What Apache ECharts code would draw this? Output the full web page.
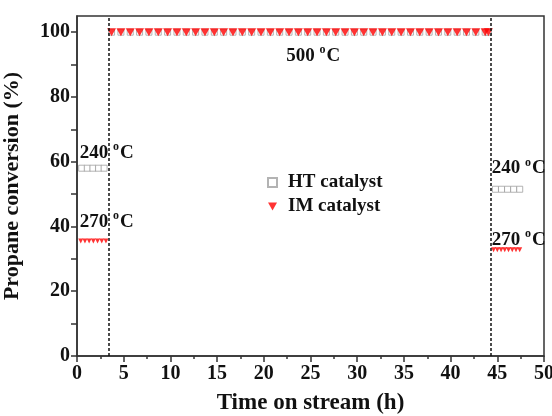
<!DOCTYPE html>
<html>
<head>
<meta charset="utf-8">
<script src="https://cdn.jsdelivr.net/npm/echarts@6/dist/echarts.min.js"></script>
<style>html,body{margin:0;padding:0;background:#fff}#c{width:552px;height:416px}</style>
</head>
<body>
<div id="c"></div>
<script>
// ---- data ----
var seriesNames = ['HT catalyst', 'IM catalyst'];
var xTickLabels = ['0', '5', '10', '15', '20', '25', '30', '35', '40', '45', '50'];
var yTickLabels = ['0', '20', '40', '60', '80', '100'];

var htX = [0.5, 1.1, 1.7, 2.3, 2.9,
  3.7, 4.7, 5.7, 6.7, 7.7, 8.7, 9.7, 10.7, 11.7, 12.7, 13.7, 14.7, 15.7, 16.7, 17.7, 18.7, 19.7, 20.7, 21.7, 22.7,
  23.7, 24.7, 25.7, 26.7, 27.7, 28.7, 29.7, 30.7, 31.7, 32.7, 33.7, 34.7, 35.7, 36.7, 37.7, 38.7, 39.7, 40.7, 41.7, 42.7, 43.7, 44.05,
  44.8, 45.45, 46.1, 46.75, 47.4];
var htY = [58, 58, 58, 58, 58,
  100, 100, 100, 100, 100, 100, 100, 100, 100, 100, 100, 100, 100, 100, 100, 100, 100, 100, 100, 100,
  100, 100, 100, 100, 100, 100, 100, 100, 100, 100, 100, 100, 100, 100, 100, 100, 100, 100, 100, 100, 100, 100,
  51.5, 51.5, 51.5, 51.5, 51.5];

var imLowX = [0.4, 0.85, 1.3, 1.75, 2.2, 2.65, 3.1,
  44.6, 45.0, 45.4, 45.8, 46.2, 46.6, 47.0, 47.4];
var imLowY = [35.5, 35.5, 35.5, 35.5, 35.5, 35.5, 35.5,
  32.8, 32.8, 32.8, 32.8, 32.8, 32.8, 32.8, 32.8];
var imHighX = [3.7, 4.7, 5.7, 6.7, 7.7, 8.7, 9.7, 10.7, 11.7, 12.7, 13.7, 14.7, 15.7, 16.7, 17.7, 18.7, 19.7, 20.7, 21.7, 22.7,
  23.7, 24.7, 25.7, 26.7, 27.7, 28.7, 29.7, 30.7, 31.7, 32.7, 33.7, 34.7, 35.7, 36.7, 37.7, 38.7, 39.7, 40.7, 41.7, 42.7, 43.7, 44.05];
var imHighY = [100, 100, 100, 100, 100, 100, 100, 100, 100, 100, 100, 100, 100, 100, 100, 100, 100, 100, 100, 100,
  100, 100, 100, 100, 100, 100, 100, 100, 100, 100, 100, 100, 100, 100, 100, 100, 100, 100, 100, 100, 100, 100];

var switchTimes = [3.45, 44.3];

var annotTexts = ['240', '270', '500', '240', '270'];
var annotX = [0.3, 0.3, 22.4, 44.4, 44.4];
var annotY = [62.8, 41.5, 92.6, 57.9, 35.9];

// ---- chart ----
var FONT = '"Liberation Serif", "Times New Roman", serif';
var TRI = 'path://M0,0L10,0L5,9Z';
function zip(a, b) { return a.map(function (v, i) { return [v, b[i]]; }); }

var chart = echarts.init(document.getElementById('c'), null, { renderer: 'canvas' });
var option = {
  animation: false,
  backgroundColor: '#fff',
  grid: { left: 77, right: 8, top: 16, bottom: 60, containLabel: false, outerBoundsMode: 'none',
    show: true, borderColor: '#333', borderWidth: 1.5, backgroundColor: 'transparent' },
  legend: {
    orient: 'vertical', left: 262, top: 168, itemGap: 5, itemWidth: 9, itemHeight: 9,
    textStyle: { fontFamily: FONT, fontWeight: 'bold', fontSize: 19, color: '#111', padding: [0, 0, 0, 6] },
    data: [
      { name: seriesNames[0], icon: 'rect' },
      { name: seriesNames[1], icon: TRI }
    ]
  },
  xAxis: {
    type: 'value', min: 0, max: 50, interval: 5,
    name: 'Time on stream (h)', nameLocation: 'middle', nameGap: 36,
    nameTextStyle: { fontFamily: FONT, fontWeight: 'bold', fontSize: 23, color: '#111' },
    axisLine: { show: true, lineStyle: { color: '#333', width: 1.5 } },
    axisTick: { show: true, inside: false, length: 6, lineStyle: { color: '#333', width: 1.5 } },
    minorTick: { show: true, splitNumber: 2, length: 3, lineStyle: { color: '#333', width: 1.5 } },
    splitLine: { show: false },
    axisLabel: {
      fontFamily: FONT, fontWeight: 'bold', fontSize: 20, color: '#111', margin: 8,
      formatter: function (v) { var i = xTickLabels.indexOf(String(v)); return i >= 0 ? xTickLabels[i] : ''; }
    }
  },
  yAxis: {
    type: 'value', min: 0, max: 105, interval: 10,
    name: 'Propane conversion (%)', nameLocation: 'middle', nameGap: 54,
    nameTextStyle: { fontFamily: FONT, fontWeight: 'bold', fontSize: 22, color: '#111' },
    axisLine: { show: true, lineStyle: { color: '#333', width: 1.5 } },
    axisTick: { show: true, inside: false, length: 6, lineStyle: { color: '#333', width: 1.5 },
      customValues: [0, 10, 20, 30, 40, 50, 60, 70, 80, 90, 100] },
    splitLine: { show: false },
    axisLabel: {
      fontFamily: FONT, fontWeight: 'bold', fontSize: 20, color: '#111', margin: 7,
      customValues: yTickLabels.map(Number),
      formatter: function (v) { var i = yTickLabels.indexOf(String(v)); return i >= 0 ? yTickLabels[i] : ''; }
    }
  },
  series: [
    {
      name: seriesNames[0], type: 'scatter', symbol: 'rect', symbolSize: 6,
      itemStyle: { color: '#fff', borderColor: '#a0a0a0', borderWidth: 1 },
      data: zip(htX, htY), z: 2
    },
    {
      name: seriesNames[1], type: 'scatter', symbol: TRI, symbolSize: [5, 5],
      itemStyle: { color: '#ff0000' },
      data: zip(imLowX, imLowY), z: 3,
      markLine: {
        silent: true, symbol: 'none', label: { show: false },
        lineStyle: { color: '#111', type: [3, 2], width: 1.5 },
        data: switchTimes.map(function (t) { return { xAxis: t }; })
      }
    },
    {
      name: seriesNames[1], type: 'scatter', symbol: TRI, symbolSize: [9, 8],
      itemStyle: { color: '#ff0000' },
      data: zip(imHighX, imHighY), z: 3
    }
  ]
};
chart.setOption(option);

var ctx = document.createElement('canvas').getContext('2d');
function textW(t, size) {
  ctx.font = 'bold ' + size + 'px ' + FONT;
  return ctx.measureText(t).width;
}
var MAIN = 19, SUP = 12;
var graphics = [];
annotTexts.forEach(function (t, i) {
  var p = chart.convertToPixel({ gridIndex: 0 }, [annotX[i], annotY[i]]);
  var w1 = textW(t + ' ', MAIN);
  var w2 = textW('o', SUP);
  var base = { fontFamily: FONT, fontWeight: 'bold', fill: '#111', verticalAlign: 'middle', align: 'left' };
  graphics.push({ type: 'text', x: p[0], y: p[1], z: 10,
    style: Object.assign({}, base, { text: t + ' ', fontSize: MAIN }) });
  graphics.push({ type: 'text', x: p[0] + w1, y: p[1] - 6, z: 10,
    style: Object.assign({}, base, { text: 'o', fontSize: SUP }) });
  graphics.push({ type: 'text', x: p[0] + w1 + w2 + 1, y: p[1], z: 10,
    style: Object.assign({}, base, { text: 'C', fontSize: MAIN }) });
});
chart.setOption({ graphic: graphics });
</script>
</body>
</html>
